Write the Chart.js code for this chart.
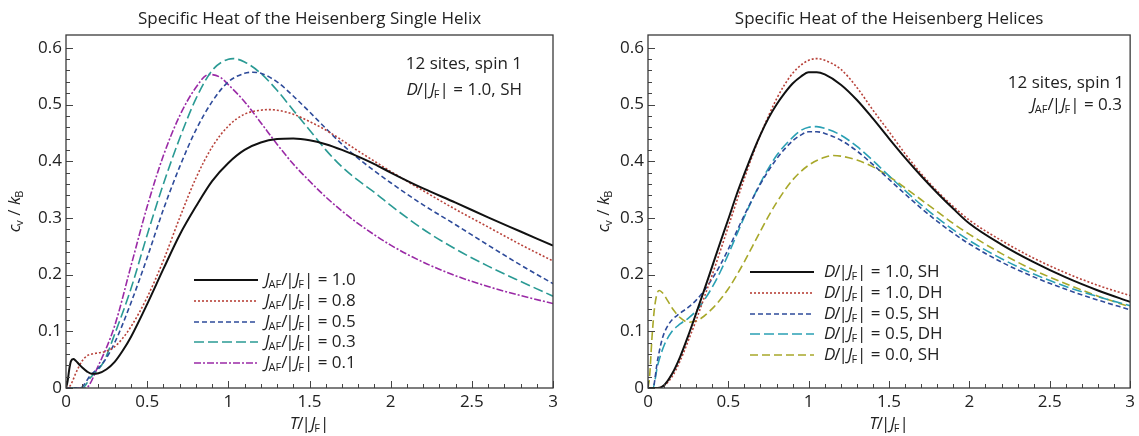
<!DOCTYPE html>
<html><head><meta charset="utf-8">
<script src="https://cdn.jsdelivr.net/npm/chart.js@4.4.1/dist/chart.umd.min.js"></script>
<style>
body{margin:0;background:#fff;}
#wrap{position:relative;width:1139px;height:436px;overflow:hidden;}
.pane{position:absolute;top:0;height:436px;}
</style>
</head><body>
<div id="wrap">
<div class="pane" style="left:0;width:570px"><canvas id="c1" width="570" height="436"></canvas></div>
<div class="pane" style="left:570px;width:569px"><canvas id="c2" width="569" height="436"></canvas></div>
</div>
<script>
// ---------- tick labels ----------
const xTicks = [0, 0.5, 1, 1.5, 2, 2.5, 3];
const yTicks = [0, 0.1, 0.2, 0.3, 0.4, 0.5, 0.6];

// ---------- left panel: single helix, D/|JF| = 1.0 ----------
const tL10 = [0,0.01,0.02,0.03,0.045,0.06,0.08,0.1,0.13,0.16,0.2,0.25,0.3,0.35,0.4,0.5,0.6,0.7,0.8,0.9,1.0,1.1,1.2,1.3,1.4,1.5,1.6,1.7,1.8,1.9,2.0,2.2,2.4,2.6,2.8,3.0];
const cL10 = [0,0.012,0.033,0.047,0.051,0.048,0.042,0.036,0.029,0.025,0.026,0.033,0.046,0.066,0.09,0.148,0.21,0.27,0.32,0.365,0.397,0.42,0.433,0.439,0.44,0.437,0.43,0.42,0.408,0.395,0.38,0.352,0.327,0.301,0.276,0.251];
const tL08 = [0,0.02,0.04,0.06,0.08,0.1,0.13,0.16,0.2,0.25,0.3,0.35,0.4,0.5,0.6,0.7,0.8,0.9,1.0,1.1,1.2,1.25,1.3,1.4,1.5,1.6,1.7,1.8,1.9,2.0,2.2,2.4,2.6,2.8,3.0];
const cL08 = [0,0.002,0.012,0.026,0.038,0.048,0.057,0.06,0.062,0.065,0.073,0.088,0.108,0.16,0.225,0.3,0.37,0.425,0.462,0.483,0.49,0.491,0.49,0.483,0.47,0.455,0.437,0.418,0.4,0.382,0.348,0.315,0.284,0.253,0.224];
const tL05 = [0,0.086,0.15,0.23,0.3,0.4,0.5,0.6,0.7,0.8,0.9,1.0,1.1,1.15,1.2,1.3,1.4,1.5,1.6,1.7,1.8,1.9,2.0,2.2,2.4,2.6,2.8,3.0];
const cL05 = [0,0,0.022,0.045,0.08,0.15,0.23,0.315,0.39,0.455,0.505,0.54,0.555,0.557,0.555,0.54,0.515,0.487,0.458,0.43,0.405,0.383,0.362,0.323,0.288,0.252,0.217,0.184];
const tL03 = [0,0.1,0.15,0.23,0.3,0.4,0.5,0.6,0.7,0.8,0.9,1.0,1.03,1.1,1.2,1.3,1.4,1.5,1.6,1.7,1.8,1.9,2.0,2.2,2.4,2.6,2.8,3.0];
const cL03 = [0,0,0.018,0.045,0.095,0.175,0.27,0.36,0.44,0.51,0.56,0.58,0.581,0.575,0.555,0.525,0.49,0.455,0.42,0.39,0.366,0.345,0.322,0.28,0.245,0.215,0.188,0.162];
const tL01 = [0,0.12,0.2,0.3,0.4,0.5,0.6,0.7,0.8,0.88,0.95,1.0,1.1,1.2,1.3,1.4,1.5,1.6,1.7,1.8,2.0,2.2,2.4,2.6,2.8,3.0];
const cL01 = [0,0,0.04,0.11,0.215,0.32,0.41,0.48,0.53,0.553,0.548,0.535,0.505,0.468,0.43,0.395,0.365,0.337,0.312,0.29,0.252,0.222,0.198,0.179,0.163,0.149];

// ---------- right panel: helices, JAF/|JF| = 0.3 ----------
const tR1S = [0,0.06,0.1,0.15,0.2,0.25,0.3,0.35,0.4,0.45,0.5,0.55,0.6,0.65,0.7,0.75,0.8,0.85,0.9,0.95,1.0,1.05,1.1,1.2,1.3,1.4,1.5,1.6,1.7,1.8,1.9,2.0,2.2,2.4,2.6,2.8,3.0];
const cR1S = [0,0,0.005,0.025,0.055,0.092,0.132,0.173,0.215,0.257,0.298,0.34,0.378,0.414,0.447,0.476,0.5,0.52,0.537,0.549,0.557,0.557,0.553,0.535,0.508,0.475,0.44,0.406,0.374,0.344,0.316,0.29,0.253,0.222,0.195,0.172,0.152];
const tR1D = [0,0.06,0.1,0.15,0.2,0.25,0.3,0.35,0.4,0.45,0.5,0.55,0.6,0.65,0.7,0.75,0.8,0.85,0.9,0.95,1.0,1.05,1.1,1.2,1.3,1.4,1.5,1.6,1.7,1.8,1.9,2.0,2.2,2.4,2.6,2.8,3.0];
const cR1D = [0,0,0.004,0.02,0.048,0.083,0.12,0.16,0.2,0.242,0.285,0.328,0.37,0.41,0.447,0.48,0.51,0.535,0.555,0.569,0.578,0.581,0.578,0.562,0.53,0.49,0.452,0.413,0.378,0.347,0.32,0.296,0.26,0.229,0.203,0.181,0.163];
const tR5S = [0,0.03,0.06,0.09,0.13,0.2,0.25,0.3,0.35,0.4,0.45,0.5,0.6,0.7,0.8,0.9,0.95,1.0,1.05,1.1,1.2,1.3,1.4,1.5,1.6,1.7,1.8,1.9,2.0,2.2,2.4,2.6,2.8,3.0];
const cR5S = [0,0,0.05,0.088,0.113,0.132,0.142,0.155,0.172,0.193,0.217,0.245,0.305,0.36,0.404,0.436,0.446,0.452,0.452,0.449,0.437,0.418,0.394,0.368,0.342,0.317,0.294,0.273,0.254,0.222,0.196,0.174,0.155,0.138];
const tR5D = [0,0.03,0.06,0.1,0.15,0.2,0.25,0.3,0.35,0.4,0.45,0.5,0.6,0.7,0.8,0.9,0.95,1.0,1.05,1.1,1.2,1.3,1.4,1.5,1.6,1.7,1.8,1.9,2.0,2.2,2.4,2.6,2.8,3.0];
const cR5D = [0,0,0.04,0.075,0.1,0.113,0.123,0.136,0.155,0.178,0.205,0.236,0.302,0.362,0.41,0.442,0.454,0.46,0.461,0.458,0.446,0.426,0.401,0.374,0.348,0.323,0.3,0.279,0.26,0.228,0.201,0.179,0.161,0.145];
const tR0S = [0,0.01,0.025,0.04,0.055,0.07,0.09,0.12,0.16,0.2,0.25,0.3,0.35,0.4,0.45,0.5,0.55,0.6,0.65,0.7,0.75,0.8,0.9,1.0,1.1,1.15,1.2,1.3,1.4,1.5,1.6,1.7,1.8,1.9,2.0,2.2,2.4,2.6,2.8,3.0];
const cR0S = [0,0.02,0.09,0.14,0.165,0.172,0.168,0.155,0.137,0.124,0.116,0.118,0.127,0.14,0.156,0.175,0.198,0.223,0.25,0.277,0.303,0.327,0.367,0.393,0.407,0.41,0.409,0.402,0.39,0.373,0.353,0.332,0.311,0.29,0.271,0.237,0.208,0.184,0.162,0.143];

// ---------- text ----------
const FONT = '"Open Sans", "Noto Sans", sans-serif';
const leftLegend = [
  [['J','i'],['AF','s'],['/','n'],['|','n'],['J','i'],['F','s'],['| = 1.0','n']],
  [['J','i'],['AF','s'],['/','n'],['|','n'],['J','i'],['F','s'],['| = 0.8','n']],
  [['J','i'],['AF','s'],['/','n'],['|','n'],['J','i'],['F','s'],['| = 0.5','n']],
  [['J','i'],['AF','s'],['/','n'],['|','n'],['J','i'],['F','s'],['| = 0.3','n']],
  [['J','i'],['AF','s'],['/','n'],['|','n'],['J','i'],['F','s'],['| = 0.1','n']]
];
const rightLegend = [
  [['D','i'],['/','n'],['|','n'],['J','i'],['F','s'],['| = 1.0, SH','n']],
  [['D','i'],['/','n'],['|','n'],['J','i'],['F','s'],['| = 1.0, DH','n']],
  [['D','i'],['/','n'],['|','n'],['J','i'],['F','s'],['| = 0.5, SH','n']],
  [['D','i'],['/','n'],['|','n'],['J','i'],['F','s'],['| = 0.5, DH','n']],
  [['D','i'],['/','n'],['|','n'],['J','i'],['F','s'],['| = 0.0, SH','n']]
];
const xTitle = [['T','i'],['/','n'],['|','n'],['J','i'],['F','s'],['|','n']];
const yTitle = [['c','i'],['v','s'],[' / ','n'],['k','i'],['B','s']];

function segFont(st, size){
  if (st==='s') return Math.round(size*0.66)+'px '+FONT;
  if (st==='i') return 'italic '+size+'px '+FONT;
  return size+'px '+FONT;
}
function segAdv(ctx, t, st, size){
  let w = ctx.measureText(t).width;
  if (st==='i') w -= size*0.06;
  if (t==='/') w -= size*0.12;
  return w;
}
function richWidth(ctx, segs, size){
  let w=0; for(const [t,st] of segs){ctx.font=segFont(st,size); w+=segAdv(ctx,t,st,size);} return w;
}
function drawRich(ctx, segs, x, y, size, align){
  ctx.save(); ctx.fillStyle='#222'; ctx.textBaseline='middle'; ctx.textAlign='left';
  const w = richWidth(ctx, segs, size);
  let cx = align==='right' ? x-w : (align==='center' ? x-w/2 : x);
  for(const [t,st] of segs){
    ctx.font=segFont(st,size);
    ctx.fillText(t, cx, st==='s' ? y+size*0.3 : y);
    cx += segAdv(ctx, t, st, size);
  }
  ctx.restore();
}

function mk(t, c){ return t.map((v,i)=>({x:v, y:c[i]})); }
function ds(t, c, color, dash, width){
  return {data: mk(t,c), borderColor: color, borderDash: dash, borderWidth: width,
          pointRadius: 0, fill: false, cubicInterpolationMode: 'monotone', borderCapStyle:'butt'};
}

function decoPlugin(cfg){
  return {
    id: 'deco',
    afterDraw(chart){
      const ctx = chart.ctx, a = chart.chartArea, xs = chart.scales.x, ys = chart.scales.y;
      ctx.save();
      ctx.strokeStyle = '#444'; ctx.lineWidth = 1; ctx.setLineDash([]);
      for (let i=0;i<=30;i++){
        const px = Math.round(xs.getPixelForValue(i/10))+0.5, L = (i%5===0)?7:4;
        ctx.beginPath(); ctx.moveTo(px, a.bottom); ctx.lineTo(px, a.bottom-L); ctx.stroke();
      }
      for (let i=0;i<=30;i++){
        const v = i*0.02; if (v > ys.max) break;
        const py = Math.round(ys.getPixelForValue(v))+0.5, L = (i%5===0)?7:4;
        ctx.beginPath(); ctx.moveTo(a.left, py); ctx.lineTo(a.left+L, py); ctx.stroke();
      }
      ctx.strokeStyle = '#3a3a3a'; ctx.lineWidth = 1.3;
      ctx.strokeRect(a.left, a.top, a.right-a.left, a.bottom-a.top);
      ctx.fillStyle = '#222'; ctx.font = cfg.titleSize+'px '+FONT; ctx.textAlign='center'; ctx.textBaseline='middle';
      ctx.fillText(cfg.title, (a.left+a.right)/2, cfg.titleY);
      for (const an of cfg.notes) drawRich(ctx, an.segs, an.x, an.y, cfg.noteSize, 'right');
      drawRich(ctx, xTitle, (a.left+a.right)/2, cfg.xTitleY, cfg.axisSize, 'center');
      ctx.save(); ctx.translate(cfg.yTitleX, (a.top+a.bottom)/2); ctx.rotate(-Math.PI/2);
      drawRich(ctx, yTitle, 0, 0, cfg.axisSize, 'center'); ctx.restore();
      chart.data.datasets.forEach((d, i)=>{
        const y = cfg.legRows[i];
        ctx.save(); ctx.strokeStyle = d.borderColor; ctx.lineWidth = d.borderWidth; ctx.setLineDash(d.borderDash||[]);
        ctx.beginPath(); ctx.moveTo(cfg.legX0, y); ctx.lineTo(cfg.legX1, y); ctx.stroke(); ctx.restore();
        drawRich(ctx, cfg.labels[i], cfg.legText, y, cfg.legSize, 'left');
      });
      ctx.restore();
    }
  };
}

function makeChart(id, datasets, cfg){
  return new Chart(document.getElementById(id), {
    type: 'line',
    data: { datasets },
    options: {
      responsive: false, animation: false, events: [],
      layout: { padding: { top: 35, right: cfg.padRight, left: 0, bottom: 0 } },
      plugins: { legend: {display:false}, tooltip: {enabled:false}, title:{display:false} },
      scales: {
        x: { type:'linear', min:0, max:3,
             afterBuildTicks: s => { s.ticks = xTicks.map(v=>({value:v})); },
             afterFit: s => { s.height = 48; },
             grid: { display:false, drawTicks:false }, border: {display:false},
             ticks: { color:'#222', font:{family:FONT, size:cfg.tickSize}, padding: 4, maxRotation:0,
                      callback: v => String(v) } },
        y: { type:'linear', min:0, max:0.6226,
             afterBuildTicks: s => { s.ticks = yTicks.map(v=>({value:v})); },
             afterFit: s => { s.width = cfg.yWidth; },
             grid: { display:false, drawTicks:false }, border: {display:false},
             ticks: { color:'#222', font:{family:FONT, size:cfg.tickSize}, padding: 4,
                      callback: v => String(v) } }
      }
    },
    plugins: [decoPlugin(cfg)]
  });
}

makeChart('c1', [
  ds(tL10, cL10, '#111111', [], 2),
  ds(tL08, cL08, '#b8423a', [2,2], 1.6),
  ds(tL05, cL05, '#2e4b9a', [5,3], 1.6),
  ds(tL03, cL03, '#2a9a94', [10,4], 1.6),
  ds(tL01, cL01, '#9a2aa6', [7,2,2,2], 1.6)
], {
  title: 'Specific Heat of the Heisenberg Single Helix', titleY: 19, titleSize: 17,
  padRight: 17, yWidth: 66, tickSize: 17, noteSize: 17, axisSize: 17, legSize: 17,
  notes: [
    {segs: [['12 sites, spin 1','n']], x: 522, y: 64},
    {segs: [['D','i'],['/','n'],['|','n'],['J','i'],['F','s'],['| = 1.0, SH','n']], x: 522, y: 90}
  ],
  xTitleY: 424, yTitleX: 15,
  legRows: [280,301,322,342,363], legX0: 194, legX1: 258, legText: 265, labels: leftLegend
});

makeChart('c2', [
  ds(tR1S, cR1S, '#111111', [], 2),
  ds(tR1D, cR1D, '#b8423a', [2,2], 1.6),
  ds(tR5S, cR5S, '#2e4b9a', [5,3], 1.6),
  ds(tR5D, cR5D, '#2aa0b4', [10,4], 1.6),
  ds(tR0S, cR0S, '#a8a82a', [8,4], 1.6)
], {
  title: 'Specific Heat of the Heisenberg Helices', titleY: 19, titleSize: 17,
  padRight: 5, yWidth: 78, tickSize: 17, noteSize: 17, axisSize: 17, legSize: 17,
  notes: [
    {segs: [['12 sites, spin 1','n']], x: 554, y: 83},
    {segs: [['J','i'],['AF','s'],['/','n'],['|','n'],['J','i'],['F','s'],['| = 0.3','n']], x: 552, y: 105}
  ],
  xTitleY: 424, yTitleX: 34,
  legRows: [272,293,314,334,355], legX0: 180, legX1: 244, legText: 254, labels: rightLegend
});
</script>
</body></html>
